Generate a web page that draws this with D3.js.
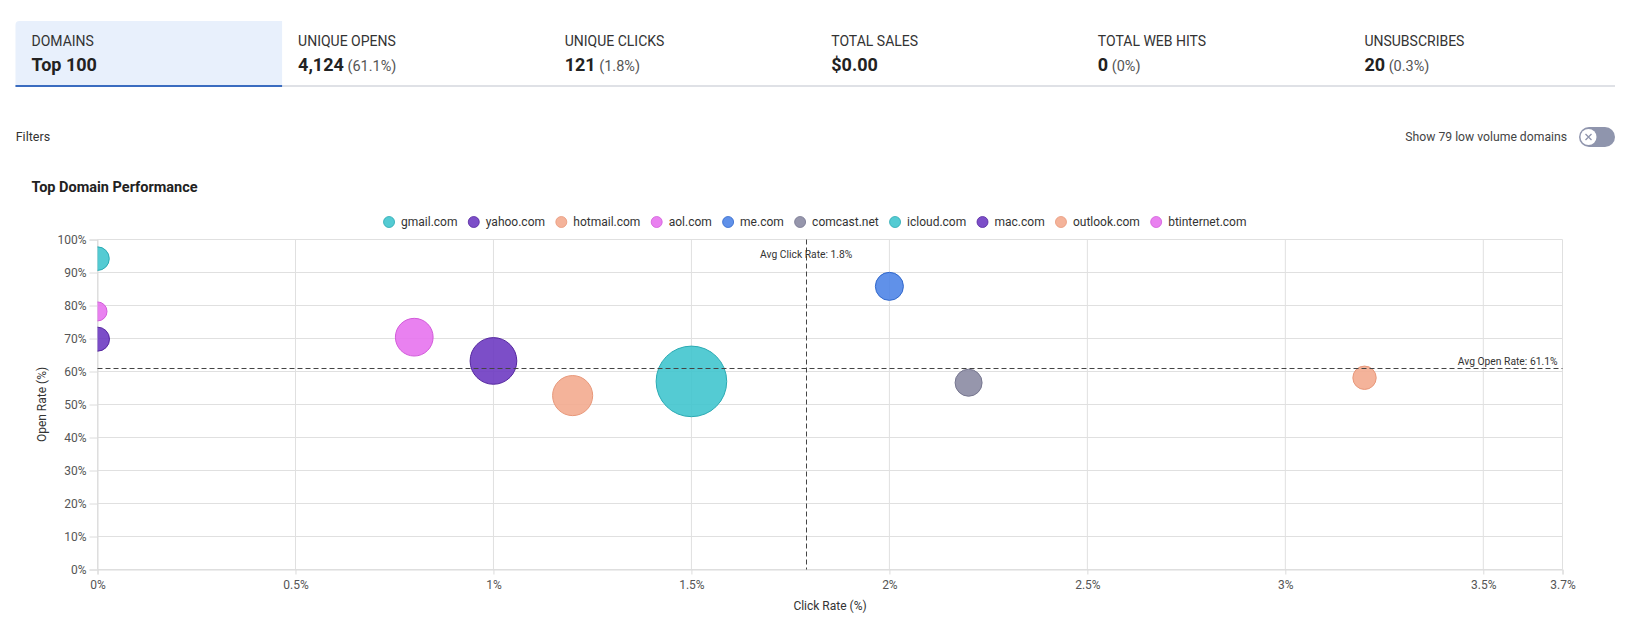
<!DOCTYPE html>
<html><head><meta charset="utf-8">
<script src="https://cdn.jsdelivr.net/npm/d3@7"></script>
<style>
html,body{margin:0;padding:0;background:#fff;}
svg{display:block;font-family:Roboto,"Noto Sans",sans-serif;}
</style></head><body>
<svg id="chart" width="1644" height="642"></svg>
<script>
// ---------- data ----------
const tabLabels = ["DOMAINS", "UNIQUE OPENS", "UNIQUE CLICKS", "TOTAL SALES", "TOTAL WEB HITS", "UNSUBSCRIBES"];
const tabValues = ["Top 100", "4,124", "121", "$0.00", "0", "20"];
const tabPercents = ["", "(61.1%)", "(1.8%)", "", "(0%)", "(0.3%)"];

const domains = ["gmail.com", "yahoo.com", "hotmail.com", "aol.com", "me.com", "comcast.net", "icloud.com", "mac.com", "outlook.com", "btinternet.com"];
const clickRates = [1.5, 1.0, 1.2, 0.8, 2.0, 2.2, 0.0, 0.0, 3.2, 0.0];
const openRates = [57.0, 63.2, 52.7, 70.4, 85.8, 56.6, 94.2, 69.8, 58.1, 78.2];
const volumes = [2700, 1180, 870, 770, 425, 395, 300, 312, 296, 196];

const avgClickRate = 1.79;
const avgOpenRate = 61.1;

const xTickValues = [0, 0.5, 1, 1.5, 2, 2.5, 3, 3.5, 3.7];
const yTickValues = [0, 10, 20, 30, 40, 50, 60, 70, 80, 90, 100];

const chartTitle = "Top Domain Performance";
const filterLabel = "Filters";
const toggleLabel = "Show 79 low volume domains";

// ---------- styles ----------
const palette = ["#3cc4cd", "#6a35c0", "#f3a98c", "#e670ee", "#4a82e6", "#8888a0"];
const strokes = ["#2aaab3", "#55279f", "#e8987a", "#d25bda", "#3168cc", "#76768f"];

const svg = d3.select("#chart");

// ---------- tabs ----------
const tabsLeft = 15.5, tabsRight = 1615, tabW = (tabsRight - tabsLeft) / tabLabels.length;
const tabsG = svg.append("g");
tabsG.append("path")
  .attr("d", `M${tabsLeft},87 V25 Q${tabsLeft},21 ${tabsLeft + 4},21 H${tabsLeft + tabW} V87 Z`)
  .attr("fill", "#e8f0fc");
tabsG.append("rect").attr("x", tabsLeft).attr("y", 85).attr("width", tabsRight - tabsLeft).attr("height", 2).attr("fill", "#dfe1e6");
tabsG.append("rect").attr("x", tabsLeft).attr("y", 85).attr("width", tabW).attr("height", 2).attr("fill", "#3a6cc0");
tabLabels.forEach((lab, i) => {
  const x0 = tabsLeft + i * tabW + 16;
  tabsG.append("text").attr("x", x0).attr("y", 46).attr("font-size", 14).attr("fill", "#333").text(lab);
  const t = tabsG.append("text").attr("x", x0).attr("y", 71);
  t.append("tspan").attr("font-size", 18).attr("font-weight", 700).attr("fill", "#222").text(tabValues[i]);
  if (tabPercents[i]) t.append("tspan").attr("font-size", 14.5).attr("fill", "#555").text("\u00a0" + tabPercents[i]);
});

// ---------- filters row ----------
svg.append("text").attr("x", 15.7).attr("y", 141).attr("font-size", 12.5).attr("fill", "#333").text(filterLabel);
svg.append("text").attr("x", 1567).attr("y", 141).attr("text-anchor", "end").attr("font-size", 12.2).attr("fill", "#444").text(toggleLabel);
const tog = svg.append("g");
tog.append("rect").attr("x", 1579).attr("y", 127).attr("width", 36).attr("height", 20).attr("rx", 10).attr("fill", "#8f95ad");
tog.append("circle").attr("cx", 1588.5).attr("cy", 137).attr("r", 8).attr("fill", "#fff");
tog.append("path").attr("d", "M1585.5,134 L1591.5,140 M1591.5,134 L1585.5,140").attr("stroke", "#8f95ad").attr("stroke-width", 1.3).attr("fill", "none");

// ---------- title ----------
svg.append("text").attr("x", 31.4).attr("y", 192).attr("font-size", 14.5).attr("font-weight", 700).attr("fill", "#222").text(chartTitle);

// ---------- scales ----------
const x = d3.scaleLinear().domain([0, 3.7]).range([97.5, 1562.5]);
const y = d3.scaleLinear().domain([0, 100]).range([569.5, 239.5]);
const r = d3.scaleSqrt().domain([0, d3.max(volumes)]).range([0, 35.3]);

// grid
const grid = svg.append("g");
grid.selectAll("line.v").data(xTickValues).join("line")
  .attr("x1", d => x(d)).attr("x2", d => x(d)).attr("y1", y(100)).attr("y2", y(0))
  .attr("stroke", "#e0e0e0").attr("stroke-width", 1);
grid.selectAll("line.h").data(yTickValues).join("line")
  .attr("x1", x(0)).attr("x2", x(3.7)).attr("y1", d => y(d)).attr("y2", d => y(d))
  .attr("stroke", "#e0e0e0").attr("stroke-width", 1);

// axes
const xAxis = svg.append("g").attr("transform", `translate(0,${y(0)})`)
  .call(d3.axisBottom(x).tickValues(xTickValues).tickFormat(d => d + "%").tickSize(5).tickPadding(6));
const yAxis = svg.append("g").attr("transform", `translate(${x(0)},0)`)
  .call(d3.axisLeft(y).tickValues(yTickValues).tickFormat(d => d + "%").tickSize(8).tickPadding(3));
[xAxis, yAxis].forEach(a => {
  a.select(".domain").attr("stroke", "#dcdcdc");
  a.selectAll(".tick line").attr("stroke", "#dcdcdc");
  a.selectAll(".tick text").attr("font-size", 12).attr("fill", "#555").attr("font-family", "Roboto");
});

svg.append("text").attr("x", (x(0) + x(3.7)) / 2).attr("y", 610).attr("text-anchor", "middle")
  .attr("font-size", 12).attr("fill", "#333").text("Click Rate (%)");
svg.append("text").attr("transform", `translate(46,${(y(0) + y(100)) / 2}) rotate(-90)`).attr("text-anchor", "middle")
  .attr("font-size", 12).attr("fill", "#333").text("Open Rate (%)");

// bubbles
svg.append("clipPath").attr("id", "plotClip").append("rect")
  .attr("x", x(0)).attr("y", y(100)).attr("width", x(3.7) - x(0)).attr("height", y(0) - y(100));
const pts = domains.map((d, i) => ({ name: d, cx: clickRates[i], oy: openRates[i], v: volumes[i], ci: i % palette.length }));
svg.append("g").attr("clip-path", "url(#plotClip)")
  .selectAll("circle").data(pts).join("circle")
  .attr("cx", d => x(d.cx)).attr("cy", d => y(d.oy)).attr("r", d => r(d.v))
  .attr("fill", d => palette[d.ci]).attr("fill-opacity", 0.88)
  .attr("stroke", d => strokes[d.ci]).attr("stroke-width", 1);

// avg lines
svg.append("line").attr("x1", x(0)).attr("x2", x(3.7)).attr("y1", Math.round(y(avgOpenRate)) + 0.5).attr("y2", Math.round(y(avgOpenRate)) + 0.5)
  .attr("stroke", "#444").attr("stroke-dasharray", "5,3");
svg.append("line").attr("x1", Math.round(x(avgClickRate)) + 0.5).attr("x2", Math.round(x(avgClickRate)) + 0.5).attr("y1", y(100)).attr("y2", y(0))
  .attr("stroke", "#444").attr("stroke-dasharray", "5,3");
svg.append("text").attr("x", x(3.7) - 5).attr("y", y(avgOpenRate) - 3).attr("text-anchor", "end")
  .attr("font-size", 10.3).attr("fill", "#333").text("Avg Open Rate: " + avgOpenRate.toFixed(1) + "%");
svg.append("text").attr("x", x(avgClickRate)).attr("y", y(100) + 18).attr("text-anchor", "middle")
  .attr("font-size", 10.3).attr("fill", "#333").text("Avg Click Rate: " + avgClickRate.toFixed(1) + "%");

// legend
const leg = svg.append("g");
let cursor = 0;
domains.forEach((d, i) => {
  const g = leg.append("g");
  g.append("circle").attr("cx", cursor + 5.5).attr("cy", 222).attr("r", 5.5)
    .attr("fill", palette[i % palette.length]).attr("fill-opacity", 0.88)
    .attr("stroke", strokes[i % palette.length]).attr("stroke-width", 0.8);
  const t = g.append("text").attr("x", cursor + 17.5).attr("y", 226.2).attr("font-size", 12).attr("fill", "#333").text(d);
  cursor += 17.5 + t.node().getComputedTextLength() + 10.8;
});
const legW = cursor - 10.8;
leg.attr("transform", `translate(${815 - legW / 2},0)`);
</script>
</body></html>
